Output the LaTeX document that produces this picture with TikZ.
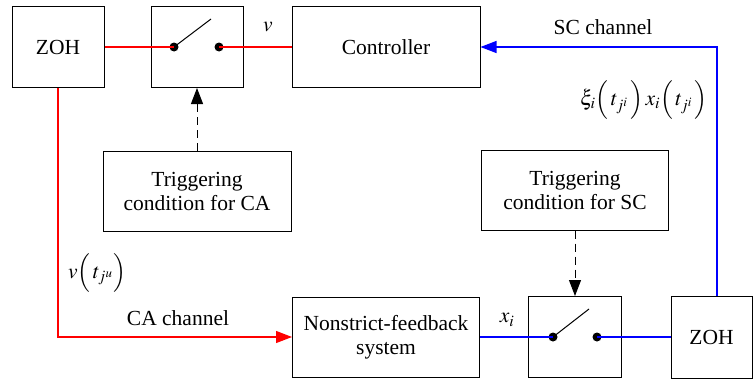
\documentclass[tikz,border=0pt]{standalone}
\usepackage{mathptmx}
\usepackage{fontspec}
\setmainfont{Liberation Serif}
\newfontfamily\blkfont{Liberation Serif}
\usepackage{tikz}
\usetikzlibrary{arrows.meta}
\usetikzlibrary{positioning}
\tikzset{blk/.style = {draw, line width=1pt, align=center, inner sep=0pt}}
\tikzset{dot/.style = {fill, circle, inner sep=0, minimum size=9}}
\tikzset{tip/.style = {-{Triangle[length=16pt,width=12pt]}}}
\tikzset{sig/.style = {line width=1.2pt}}

\begin{document}
\begin{tikzpicture}[x=1pt, y=-1pt, font=\blkfont\fontsize{21.5}{24}\selectfont]
    \useasboundingbox (0,0) rectangle (753,380);
    % blocks
    \node [blk, minimum width=92, minimum height=81] (zohCA) at (58,47) {ZOH};
    \node [blk, minimum width=92, minimum height=81] (swCA) at (197,47) {};
    \node [blk, minimum width=188, minimum height=81] (ctrl) at (386,47) {Controller};
    \node [blk, minimum width=188, minimum height=80] (trigCA) at (197,191)
        {Triggering\\condition for CA};
    \node [blk, minimum width=187, minimum height=80] (plant) at (386,337)
        {Nonstrict-feedback\\system};
    \node [blk, minimum width=93, minimum height=81] (swSC) at (575,337) {};
    \node [blk, minimum width=187, minimum height=80] (trigSC) at (575,190)
        {Triggering\\condition for SC};
    \node [blk, minimum width=81, minimum height=82] (zohSC) at (711.5,337) {ZOH};
    % switches
    \node [dot] (swCAl) at (174,47) {};
    \node [dot] (swCAr) at (219,47) {};
    \draw [line width=1pt] (swCAl.center) -- ++(37,-28);
    \node [dot] (swSCl) at (553,337) {};
    \node [dot] (swSCr) at (597,337) {};
    \draw [line width=1pt] (swSCl.center) -- ++(36,-28);
    % CA side
    \draw [sig, red] (zohCA.east) -- (swCAl.center);
    \draw [sig, red] (swCAr.center) -- (ctrl.west);
    \draw [sig, red, tip] (zohCA.south) |- (plant.west);
    \draw [line width=1pt, dash pattern=on 8pt off 5pt, tip] (trigCA.north) -- (swCA.south);
    % SC side
    \draw [sig, blue] (plant.east) -- (swSCl.center);
    \draw [sig, blue] (swSCr.center) -- (zohSC.west);
    \coordinate (zohSCup) at (717,296);
    \draw [sig, blue, tip] (zohSCup) |- (ctrl.east);
    \draw [line width=1pt, dash pattern=on 8pt off 5pt, tip] (trigSC.south) -- (swSC.north);
    % labels
    \node (lblv) at (268,27) {$v$};
    \node (lblSC) at (603,27) {SC channel};
    \node (lblxi) at (708,100) [left, inner sep=0pt]
        {$\xi_i\Bigl(\,t_{j^i}\,\Bigr)\,x_i\Bigl(\,t_{j^i}\,\Bigr)$};
    \node (lblvt) at (97,273) {$v\Bigl(\,t_{j^u}\Bigr)$};
    \node (lblCA) at (178,318) {CA channel};
    \node (lblx) at (507,320) {$x_i$};
\end{tikzpicture}
\end{document}
